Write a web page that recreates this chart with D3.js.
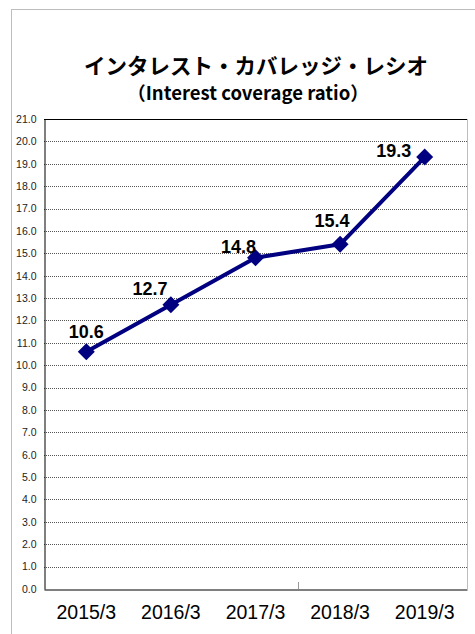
<!DOCTYPE html>
<html><head><meta charset="utf-8">
<script src="https://cdn.jsdelivr.net/npm/d3@7"></script>
<style>body{margin:0;background:#fff}svg{display:block}</style>
</head><body>
<script>
const categories = ["2015/3","2016/3","2017/3","2018/3","2019/3"];
const values = [10.6, 12.7, 14.8, 15.4, 19.3];
const yTicks = d3.range(0, 22, 1);
const title = "インタレスト・カバレッジ・レシオ";
const subtitle = "（Interest coverage ratio）";
// label offsets (style)
const labelDx = [0, -21, -17, -8, -31];
const labelDy = [-14, -10, -5, -17, 0];

const W = 475, H = 634;
const svg = d3.select("body").append("svg").attr("width", W).attr("height", H);
svg.append("rect").attr("x", 11.5).attr("y", 9.5).attr("width", 480).attr("height", 640)
  .attr("fill", "#fff").attr("stroke", "#bdbdbd");

const L = 44, R = 467, T = 119, B = 589;
const x = d3.scaleBand().domain(categories).range([L, R]);
const y = d3.scaleLinear().domain([0, 21]).range([B, T]);

svg.append("text").attr("x", 256).attr("y", 74).attr("text-anchor", "middle")
  .attr("font-family", "Noto Sans CJK JP").attr("font-weight", "bold").attr("font-size", 21.5)
  .attr("fill", "#000").text(title);
svg.append("text").attr("x", 248).attr("y", 100).attr("text-anchor", "middle")
  .attr("font-family", "Noto Sans CJK JP").attr("font-weight", "bold").attr("font-size", 18.5)
  .attr("fill", "#000").text(subtitle);

// grid
svg.append("g").selectAll("line").data(yTicks.filter(d => d > 0)).join("line")
  .attr("x1", L).attr("x2", R).attr("y1", d => Math.round(y(d)) + 0.5).attr("y2", d => Math.round(y(d)) + 0.5)
  .attr("stroke", d => d === 21 ? "#000" : "#555").attr("stroke-dasharray", d => d === 21 ? null : "1,1");
// right border
svg.append("line").attr("x1", R + 0.5).attr("x2", R + 0.5).attr("y1", T).attr("y2", B)
  .attr("stroke", "#bdbdbd");

// y axis
const yAxis = d3.axisLeft(y).tickValues(yTicks).tickFormat(d3.format(".1f")).tickSize(0).tickPadding(8);
const gy = svg.append("g").attr("transform", `translate(${L + 0.5},0)`).call(yAxis);
gy.select(".domain").attr("stroke", "#000");
gy.selectAll("text").attr("font-family", "Liberation Sans, Arial").attr("font-size", 10.5).attr("fill", "#222");

// x axis
const xAxis = d3.axisBottom(x).tickSize(0).tickPadding(16);
const gx = svg.append("g").attr("transform", `translate(0,${B + 0.5})`).call(xAxis);
gx.select(".domain").attr("stroke", "#000").attr("stroke-width", 1.2);
gx.selectAll("text").attr("font-family", "Liberation Sans, Arial").attr("font-size", 19.5).attr("fill", "#000");
svg.append("line").attr("x1", 298.5).attr("x2", 298.5).attr("y1", B - 7).attr("y2", B)
  .attr("stroke", "#999");

const cx = d => x(d) + x.bandwidth() / 2;
const line = d3.line().x((d, i) => cx(categories[i])).y(d => y(d));
svg.append("path").datum(values).attr("d", line).attr("fill", "none")
  .attr("stroke", "#000080").attr("stroke-width", 4).attr("stroke-linejoin", "round");

svg.append("g").selectAll("path").data(values).join("path")
  .attr("d", d3.symbol().type(d3.symbolSquare).size(144))
  .attr("transform", (d, i) => `translate(${cx(categories[i])},${y(d)}) rotate(45)`)
  .attr("fill", "#000080");

svg.append("g").selectAll("text").data(values).join("text")
  .attr("x", (d, i) => cx(categories[i]) + labelDx[i])
  .attr("y", (d, i) => y(d) + labelDy[i])
  .attr("text-anchor", "middle").attr("font-family", "Liberation Sans, Arial")
  .attr("font-weight", "bold").attr("font-size", 18).attr("fill", "#000")
  .text(d => d3.format(".1f")(d));
</script>
</body></html>
